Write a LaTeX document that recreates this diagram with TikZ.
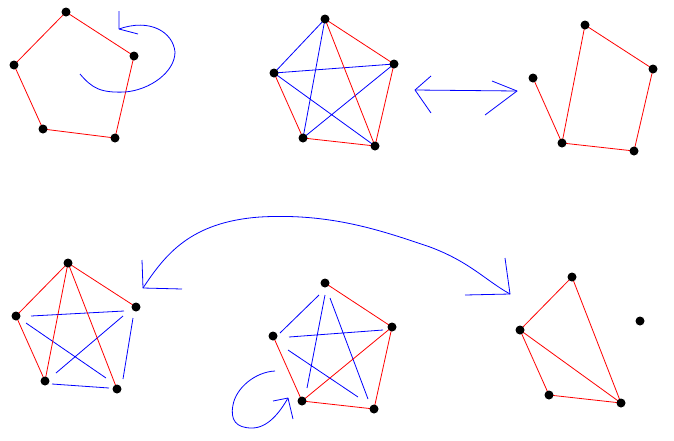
\documentclass[tikz,border=0pt]{standalone}
\begin{document}
\begin{tikzpicture}[x=1pt,y=-1pt,
  dot/.style={circle,fill=black,inner sep=0pt,minimum size=9pt},
  redge/.style={draw=red,line width=0.8pt},
  bedge/.style={draw=blue,line width=0.8pt},
  stroke/.style={draw=blue,line width=0.8pt,line join=round}]
\useasboundingbox[fill=white] (0,0) rectangle (674,440);
% ---- graph 1
\coordinate (a1) at (66,12); \coordinate (b1) at (134,56); \coordinate (c1) at (115,138);
\coordinate (d1) at (43,129); \coordinate (e1) at (14,65);
\draw[redge] (a1)--(b1)--(c1)--(d1)--(e1)--cycle;
\draw[stroke] (80,74) .. controls (92,88) and (100,93) .. (125,92) .. controls (150,90) and (175,72) .. (175,52) .. controls (173,32) and (150,18) .. (119,29);
\draw[stroke] (119,11) -- (119,29) -- (138,34);
% ---- graph 2
\coordinate (a2) at (325,19); \coordinate (b2) at (394,64); \coordinate (c2) at (375,146);
\coordinate (d2) at (303,138); \coordinate (e2) at (274,73);
\draw[bedge] (a2)--(d2) (a2)--(e2) (e2)--(b2) (e2)--(c2) (d2)--(b2);
\draw[redge] (a2)--(b2)--(c2)--(d2)--(e2) (a2)--(c2);
% double arrow
\coordinate (l) at (415,90); \coordinate (r) at (517,91);
\draw[stroke] (l) -- (r);
\draw[stroke] (431,76) -- (l) -- (431,113);
\draw[stroke] (492,81) -- (r) -- (485,115);
% ---- graph 3
\coordinate (a3) at (585,25); \coordinate (b3) at (653,69); \coordinate (c3) at (634,151);
\coordinate (d3) at (562,143); \coordinate (e3) at (533,78);
\draw[redge] (a3)--(b3)--(c3)--(d3)--(a3) (d3)--(e3);
% ---- graph 4
\coordinate (a4) at (68,263); \coordinate (b4) at (136,307); \coordinate (c4) at (117,389);
\coordinate (d4) at (45,381); \coordinate (e4) at (16,316);
\draw[bedge] (31,316)--(124,311) (26,323)--(106,378) (123,316)--(56,373) (133,318)--(123,379) (52,384)--(109,388);
\draw[redge] (a4)--(e4)--(d4)--(a4) (a4)--(c4) (a4)--(b4);
% ---- graph 5
\coordinate (a5) at (325,283); \coordinate (b5) at (392,327); \coordinate (c5) at (374,409);
\coordinate (d5) at (302,401); \coordinate (e5) at (273,336);
\draw[bedge] (319,295)--(280,333) (325,295)--(307,388) (330,298)--(368,399) (289,337)--(383,330) (288,350)--(358,397);
\draw[redge] (a5)--(b5)--(c5)--(d5)--(e5) (d5)--(b5);
\draw[stroke] (275,371) .. controls (255,372) and (236,388) .. (233,405) .. controls (230,420) and (236,428) .. (252,428) .. controls (268,428) and (280,412) .. (288,398);
\draw[stroke] (273,401) -- (288,398) -- (293,419);
% ---- graph 6
\coordinate (a6) at (572,277); \coordinate (b6) at (640,321); \coordinate (c6) at (621,403);
\coordinate (d6) at (549,395); \coordinate (e6) at (520,330);
\draw[redge] (a6)--(e6)--(d6)--(c6)--(a6) (e6)--(c6);
% ---- big arc
\coordinate (al) at (143,288); \coordinate (ar) at (510,294);
\draw[stroke] (al) .. controls (165,255) and (190,222) .. (260,217) .. controls (330,213) and (380,230) .. (430,247) .. controls (470,262) and (485,280) .. (ar);
\draw[stroke] (142,260) -- (al) -- (182,289);
\draw[stroke] (505,258) -- (ar) -- (465,295);
% ---- dots
\foreach \n in {a1,b1,c1,d1,e1,a2,b2,c2,d2,e2,a3,b3,c3,d3,e3,a4,b4,c4,d4,e4,a5,b5,c5,d5,e5,a6,b6,c6,d6,e6}
  \node[dot] (\n-dot) at (\n) {};
\end{tikzpicture}
\end{document}
